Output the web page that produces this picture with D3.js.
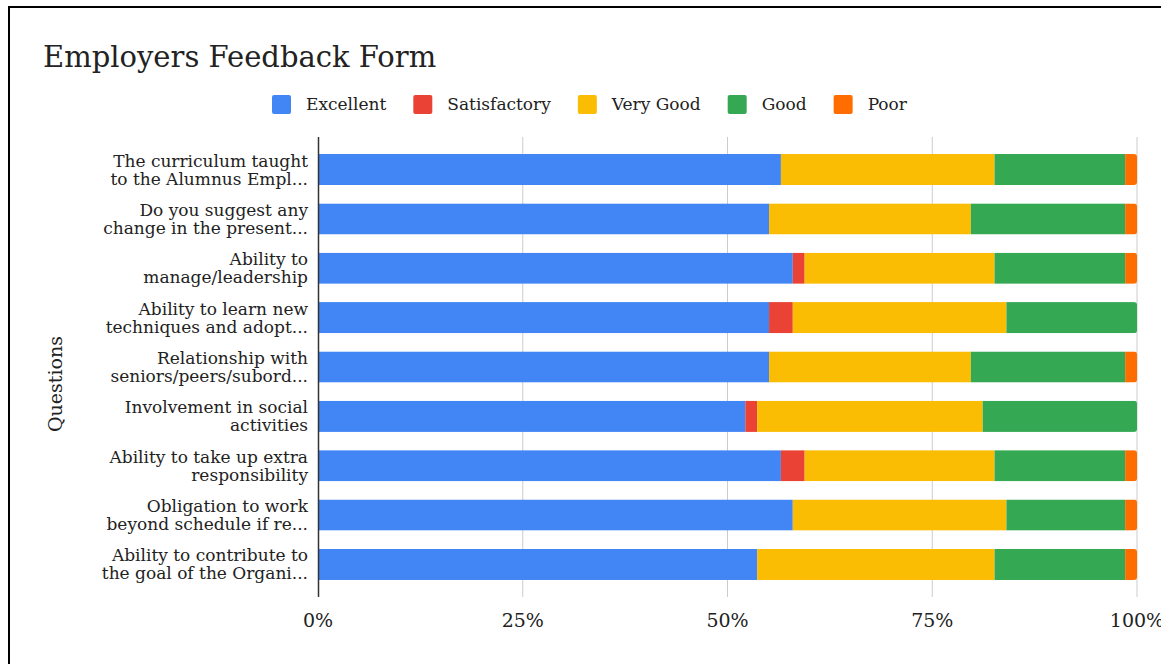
<!doctype html>
<html>
  <head>
    <script src="https://cdnjs.cloudflare.com/ajax/libs/d3/7.8.5/d3.min.js"></script>
    <style>
      body { margin: 0; background: #fff; }
      text { font-family: Georgia, "DejaVu Serif", serif; fill: #222; }
    </style>
  </head>
  <body>
    <svg width="1161" height="664"></svg>
    <script>
      var questions = [
        ["The curriculum taught", "to the Alumnus Empl..."],
        ["Do you suggest any", "change in the present..."],
        ["Ability to", "manage/leadership"],
        ["Ability to learn new", "techniques and adopt..."],
        ["Relationship with", "seniors/peers/subord..."],
        ["Involvement in social", "activities"],
        ["Ability to take up extra", "responsibility"],
        ["Obligation to work", "beyond schedule if re..."],
        ["Ability to contribute to", "the goal of the Organi..."]
      ];
      var seriesNames = ["Excellent", "Satisfactory", "Very Good", "Good", "Poor"];
      var seriesColors = ["#4285f4", "#ea4335", "#fbbc04", "#34a853", "#ff6d01"];
      var excellent    = [39, 38, 40, 38, 38, 36, 39, 40, 37];
      var satisfactory = [0, 0, 1, 2, 0, 1, 2, 0, 0];
      var veryGood     = [18, 17, 16, 18, 17, 19, 16, 18, 20];
      var good         = [11, 13, 11, 11, 13, 13, 11, 10, 11];
      var poor         = [1, 1, 1, 0, 1, 0, 1, 1, 1];
      var xTicks = [0, 0.25, 0.5, 0.75, 1];

      var seriesValues = [excellent, satisfactory, veryGood, good, poor];
      var rows = questions.map(function(q, i) {
        var r = {i: i};
        seriesNames.forEach(function(s, j) { r[s] = seriesValues[j][i]; });
        return r;
      });

      var svg = d3.select("svg");
      var plotLeft = 318, plotRight = 1137, plotTop = 137, plotBottom = 597;

      // frame
      svg.append("rect")
        .attr("x", 9).attr("y", 7)
        .attr("width", 1200).attr("height", 700)
        .attr("fill", "none").attr("stroke", "#000").attr("stroke-width", 2);

      var x = d3.scaleLinear().domain([0, 1]).range([plotLeft, plotRight]);
      var y = d3.scaleBand().domain(d3.range(questions.length))
        .range([plotTop, plotBottom]).paddingInner(0.37).paddingOuter(0.345);

      var stack = d3.stack().keys(seriesNames).offset(d3.stackOffsetExpand);
      var stacked = stack(rows);

      // grid
      svg.append("g").selectAll("line").data(xTicks.slice(1))
        .enter().append("line")
          .attr("x1", d => x(d)).attr("x2", d => x(d))
          .attr("y1", plotTop).attr("y2", plotBottom)
          .attr("stroke", "#cccccc").attr("stroke-width", 1);

      // rounded right ends
      var defs = svg.append("defs");
      rows.forEach(function(r, i) {
        defs.append("clipPath").attr("id", "clip" + i)
          .append("rect")
            .attr("x", plotLeft - 10).attr("y", y(i))
            .attr("width", x(1) - plotLeft + 10).attr("height", y.bandwidth())
            .attr("rx", 3);
      });

      var bars = svg.append("g");
      stacked.forEach(function(layer, j) {
        bars.append("g").attr("fill", seriesColors[j])
          .selectAll("rect").data(layer)
          .enter().append("rect")
            .attr("clip-path", (d, i) => "url(#clip" + i + ")")
            .attr("x", d => x(d[0]))
            .attr("y", (d, i) => y(i))
            .attr("width", d => Math.max(0, x(d[1]) - x(d[0])))
            .attr("height", y.bandwidth());
      });

      // axis line
      svg.append("line")
        .attr("x1", plotLeft + 0.5).attr("x2", plotLeft + 0.5)
        .attr("y1", plotTop).attr("y2", plotBottom)
        .attr("stroke", "#333").attr("stroke-width", 1.5);

      // x tick labels
      svg.append("g").selectAll("text").data(xTicks)
        .enter().append("text")
          .attr("x", d => x(d)).attr("y", 627)
          .attr("text-anchor", "middle")
          .style("font-size", "19px")
          .text(d3.format(".0%"));

      // y labels
      var yl = svg.append("g").selectAll("text").data(questions)
        .enter().append("text")
          .attr("text-anchor", "end")
          .style("font-size", "17px");
      yl.each(function(q, i) {
        var cy = y(i) + y.bandwidth() / 2;
        d3.select(this).selectAll("tspan").data(q).enter().append("tspan")
          .attr("x", 308)
          .attr("y", (d, k) => cy - 3 + k * 18)
          .text(d => d);
      });

      // axis title
      svg.append("text")
        .attr("transform", "translate(62,384) rotate(-90)")
        .attr("text-anchor", "middle")
        .style("font-size", "19px")
        .text("Questions");

      // title
      svg.append("text")
        .attr("x", 43).attr("y", 67)
        .style("font-size", "29px")
        .text("Employers Feedback Form");

      // legend
      var legend = svg.append("g");
      var lx = 0;
      seriesNames.forEach(function(s, j) {
        var g = legend.append("g").attr("transform", "translate(" + lx + ",0)");
        g.append("rect").attr("x", 0).attr("y", 95).attr("width", 19).attr("height", 19)
          .attr("rx", 2).attr("fill", seriesColors[j]);
        var t = g.append("text").attr("x", 34).attr("y", 110)
          .style("font-size", "17px").text(s);
        lx += 34 + t.node().getComputedTextLength() + 27;
      });
      var lw = lx - 27;
      legend.attr("transform", "translate(" + (589.5 - lw / 2) + ",0)");
    </script>
  </body>
</html>
